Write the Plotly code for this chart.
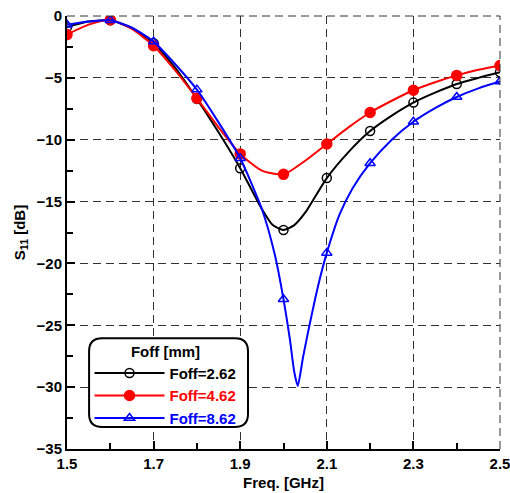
import plotly.graph_objects as go

# marker frequencies (GHz)
freq_mk = [1.5, 1.6, 1.7, 1.8, 1.9, 2.0, 2.1, 2.2, 2.3, 2.4, 2.5]
s11_262 = [-0.9, -0.35, -2.2, -6.7, -12.3, -17.3, -13.1, -9.3, -7.0, -5.5, -4.55]
s11_462 = [-1.5, -0.3, -2.4, -6.65, -11.15, -12.8, -10.35, -7.8, -6.0, -4.8, -4.0]
s11_862 = [-0.7, -0.35, -2.07, -5.95, -11.5, -22.9, -19.15, -11.9, -8.55, -6.55, -5.3]

# dense curve samples (GHz, dB)
freq_262 = [1.5, 1.55, 1.6, 1.65, 1.7, 1.75, 1.8, 1.85, 1.9, 1.95, 1.975, 2.0, 2.025, 2.05, 2.1, 2.15, 2.2, 2.25, 2.3, 2.35, 2.4, 2.45, 2.5]
line_262 = [-0.9, -0.45, -0.35, -1.0, -2.2, -4.2, -6.7, -9.4, -12.3, -15.6, -16.9, -17.3, -16.9, -15.9, -13.1, -11.0, -9.3, -8.05, -7.0, -6.2, -5.5, -5.0, -4.55]
freq_462 = [1.5, 1.55, 1.6, 1.65, 1.7, 1.75, 1.8, 1.85, 1.9, 1.95, 2.0, 2.05, 2.1, 2.15, 2.2, 2.25, 2.3, 2.35, 2.4, 2.45, 2.5]
line_462 = [-1.5, -0.7, -0.3, -1.05, -2.4, -4.4, -6.65, -9.0, -11.15, -12.5, -12.8, -11.7, -10.35, -9.0, -7.8, -6.85, -6.0, -5.35, -4.8, -4.35, -4.0]
freq_862 = [1.5, 1.55, 1.6, 1.65, 1.7, 1.75, 1.8, 1.85, 1.9, 1.95, 1.98, 2.0, 2.015, 2.025, 2.033, 2.045, 2.06, 2.08, 2.1, 2.13, 2.16, 2.2, 2.25, 2.3, 2.35, 2.4, 2.45, 2.5]
line_862 = [-0.7, -0.45, -0.35, -0.95, -2.07, -3.9, -5.95, -8.6, -11.5, -15.6, -19.3, -22.9, -26.2, -28.8, -29.9, -27.6, -25.0, -21.8, -19.15, -16.0, -13.9, -11.9, -10.0, -8.55, -7.45, -6.55, -5.85, -5.3]

series = [
    ("Foff=2.62", "black", freq_262, line_262, s11_262, "circle-open", 9),
    ("Foff=4.62", "red", freq_462, line_462, s11_462, "circle", 10),
    ("Foff=8.62", "blue", freq_862, line_862, s11_862, "triangle-up-open", 9),
]

FONT = "Liberation Sans, Arial, sans-serif"
BF = dict(family=FONT, size=15, color="black", weight="bold")
fig = go.Figure()
for name, col, fx, fy, my, sym, sz in series:
    fig.add_trace(go.Scatter(x=fx, y=fy, mode="lines", line=dict(color=col, width=2, shape="spline", smoothing=0.6),
                             showlegend=False, hoverinfo="skip"))
    fig.add_trace(go.Scatter(x=freq_mk, y=my, mode="markers", showlegend=False,
                             marker=dict(symbol=sym, size=sz, color=col, line=dict(color=col, width=1.5))))
    fig.add_trace(go.Scatter(x=[None], y=[None], mode="lines+markers",
                             name=f"<span style='color:{col}'><b>{name}</b></span>",
                             line=dict(color=col, width=2),
                             marker=dict(symbol=sym, size=sz, color=col, line=dict(color=col, width=1.5))))

grid = dict(showgrid=True, gridcolor="#333", griddash="8px,5px", gridwidth=1)
fig.update_xaxes(range=[1.5, 2.5], dtick=0.2, tick0=1.5, ticks="inside", ticklen=8, tickwidth=1.5,
                 tickcolor="black", showline=True, linecolor="black", linewidth=2, zeroline=False,
                 tickfont=BF, tickformat=".1f", automargin=False, ticklabeloverflow="allow",
                 minor=dict(dtick=0.1, ticks="inside", ticklen=6, tickcolor="black", showgrid=False),
                 title=dict(text="Freq. [GHz]", font=BF, standoff=6),
                 **grid)
fig.update_yaxes(range=[-35, 0], dtick=5, ticks="inside", ticklen=8, tickwidth=1.5,
                 tickcolor="black", showline=True, linecolor="black", linewidth=2, zeroline=False,
                 tickfont=BF, automargin=False, ticklabeloverflow="allow",
                 minor=dict(dtick=2.5, ticks="inside", ticklen=6, tickcolor="black", showgrid=False),
                 title=dict(text="S<sub>11</sub> [dB]", font=BF, standoff=7),
                 **grid)

# dashed border lines at top (0 dB) and right (2.5 GHz), matching grid
fig.add_shape(type="line", xref="paper", yref="paper", x0=0, x1=1, y0=1, y1=1,
              line=dict(color="#333", width=1, dash="8px,5px"))
fig.add_shape(type="line", xref="paper", yref="paper", x0=1, x1=1, y0=0, y1=1,
              line=dict(color="#333", width=1, dash="8px,5px"))

# rounded legend frame
x0, x1, y0, y1, rx, ry = 0.051, 0.418, 0.051, 0.256, 0.03, 0.03
path = (f"M{x0+rx},{y0} L{x1-rx},{y0} Q{x1},{y0} {x1},{y0+ry} L{x1},{y1-ry} Q{x1},{y1} {x1-rx},{y1} "
        f"L{x0+rx},{y1} Q{x0},{y1} {x0},{y1-ry} L{x0},{y0+ry} Q{x0},{y0} {x0+rx},{y0} Z")
fig.add_shape(type="path", path=path, xref="paper", yref="paper", line=dict(color="black", width=2),
              fillcolor="white", layer="above")

fig.update_layout(
    width=510, height=493, margin=dict(l=67, r=10, t=16, b=44),
    paper_bgcolor="white", plot_bgcolor="white",
    font=dict(family=FONT, size=15, color="black"),
    legend=dict(x=0.052, y=0.258, xanchor="left", yanchor="top", bgcolor="rgba(0,0,0,0)", borderwidth=0,
                title=dict(text="<b>Foff [mm]</b>", side="top center", font=dict(size=15)),
                font=dict(family=FONT, size=15), itemwidth=70, tracegroupgap=0),
)
fig.write_html("out.html", config={"displayModeBar": False},
               post_script="document.body.style.margin='0';document.body.style.overflow='hidden';")
